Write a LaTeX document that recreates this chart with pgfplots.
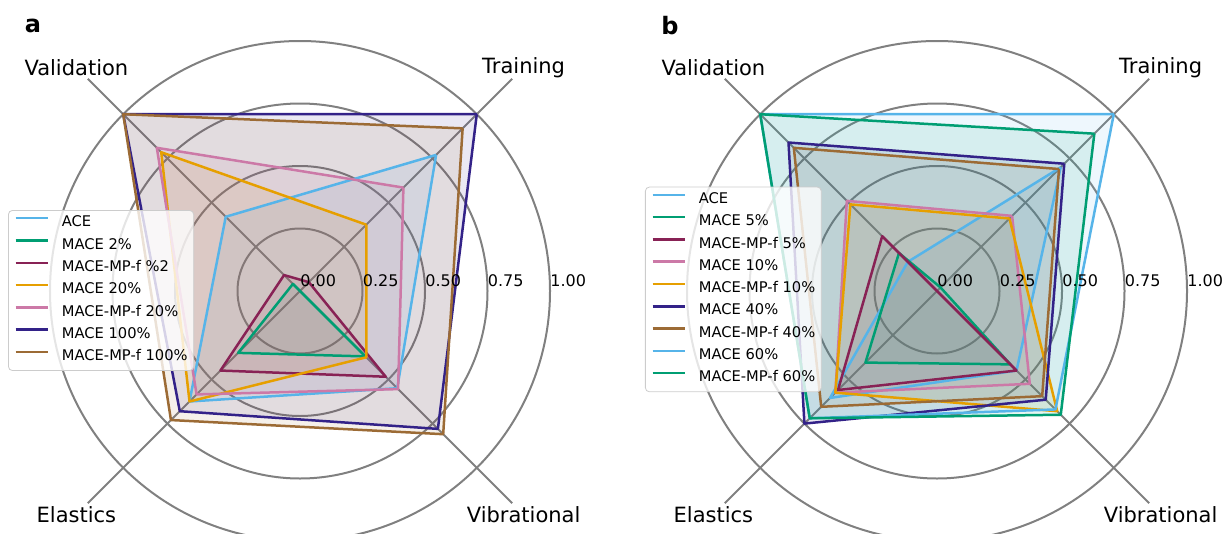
\documentclass[border=0pt]{standalone}
\usepackage{pgfplots}
\usepackage{pgfplotstable}
\pgfplotsset{compat=1.18}
\usepgfplotslibrary{polar}
\usepackage{fontspec}
\setmainfont{DejaVu Sans}

\definecolor{cACE}{HTML}{56B4E9}
\definecolor{cGreen}{HTML}{009E73}
\definecolor{cPurple}{HTML}{882255}
\definecolor{cOrange}{HTML}{E69F00}
\definecolor{cPink}{HTML}{CC79A7}
\definecolor{cNavy}{HTML}{332288}
\definecolor{cBrown}{HTML}{9C6B35}

% panel a: angle, then one column per model (first row repeated to close)
\pgfplotstableread{
ang  ACE   Ma    Fa    Mb    Fb    Mc   Fc
45   0.77  0     0.05  0.375 0.585 1.0  0.92
135  0.42  0.04  0.09  0.785 0.81  1.0  1.0
225  0.625 0.35  0.45  0.625 0.585 0.68 0.73
315  0.55  0.37  0.485 0.375 0.555 0.78 0.81
45   0.77  0     0.05  0.375 0.585 1.0  0.92
}\tabA
% panel b
\pgfplotstableread{
ang  ACE   Ma    Fa    Mb    Fb    Mc    Fc    Md   Fd
45   0.70  0.02  0     0.425 0.41  0.72  0.69  1.0  0.89
135  0.165 0.215 0.31  0.51  0.49  0.84  0.81  1.0  1.0
225  0.605 0.405 0.56  0.575 0.575 0.75  0.655 0.72 0.72
315  0.45  0.415 0.45  0.525 0.68  0.615 0.595 0.67 0.70
45   0.70  0.02  0     0.425 0.41  0.72  0.69  1.0  0.89
}\tabB

\pgfplotsset{
  radar/.style={
    width=300pt, height=300pt, scale only axis,
    ymin=0, ymax=1.2, xmin=0, xmax=360,
    xtick={45,135,225,315}, xticklabels={},
    ytick={0.25,0.5,0.75,1}, yticklabels={},
    xmajorgrids, ymajorgrids,
    major grid style={draw=gray, line width=1pt},
    axis line style={draw=none},
    major tick length=0pt,
    clip=false,
    legend cell align=left,
    legend image code/.code={\draw[##1] (0pt,2.7pt) -- (16pt,2.7pt);},
    legend style={font=\fontsize{7.35}{8.8}\selectfont, draw=black!20, rounded corners=2pt,
      fill=white, fill opacity=0.8, text opacity=1, draw opacity=1,
      inner xsep=3pt, inner ysep=1pt, row sep=0pt, column sep=6.5pt,
      nodes={inner sep=0pt, text height=7.2pt, text depth=3.95pt},
      anchor=north west},
  },
  area/.style={forget plot, draw=none, fill=#1, fill opacity=0.1},
  ln/.style={draw=#1, line width=1.25pt, line join=round},
}
\tikzset{
  rlabel/.style={anchor=base west, inner sep=0pt, yshift=2.5pt, font=\fontsize{8}{9.6}\selectfont},
  clabel/.style={anchor=center, font=\fontsize{10.5}{12.6}\selectfont},
}

\begin{document}
\begin{tikzpicture}
\useasboundingbox (0,0) rectangle (612.5pt,-267pt);

% ---------------- panel a ----------------
\begin{polaraxis}[radar, at={(150pt,-145.5pt)}, anchor=center,
  legend style={at={(axis cs:164.5,1.212)}}]
\addplot[area=cACE]    table[x=ang,y=ACE] {\tabA};
\addplot[area=cGreen]  table[x=ang,y=Ma] {\tabA};
\addplot[area=cPurple] table[x=ang,y=Fa] {\tabA};
\addplot[area=cOrange] table[x=ang,y=Mb] {\tabA};
\addplot[area=cPink]   table[x=ang,y=Fb] {\tabA};
\addplot[area=cNavy]   table[x=ang,y=Mc] {\tabA};
\addplot[area=cBrown]  table[x=ang,y=Fc] {\tabA};
\addplot[ln=cACE]    table[x=ang,y=ACE] {\tabA};
\addplot[ln=cGreen]  table[x=ang,y=Ma] {\tabA};
\addplot[ln=cPurple] table[x=ang,y=Fa] {\tabA};
\addplot[ln=cOrange] table[x=ang,y=Mb] {\tabA};
\addplot[ln=cPink]   table[x=ang,y=Fb] {\tabA};
\addplot[ln=cNavy]   table[x=ang,y=Mc] {\tabA};
\addplot[ln=cBrown]  table[x=ang,y=Fc] {\tabA};
\legend{ACE, MACE 2\%, MACE-MP-f \%2, MACE 20\%, MACE-MP-f 20\%, MACE 100\%, MACE-MP-f 100\%}
\node[rlabel] at (axis cs:0,0) {0.00};
\node[rlabel] at (axis cs:0,0.25) {0.25};
\node[rlabel] at (axis cs:0,0.5) {0.50};
\node[rlabel] at (axis cs:0,0.75) {0.75};
\node[rlabel] at (axis cs:0,1) {1.00};
\node[clabel] at (axis cs:45,1.265) {Training};
\node[clabel] at (axis cs:135,1.265) {Validation};
\node[clabel] at (axis cs:225,1.265) {Elastics};
\node[clabel] at (axis cs:315,1.265) {Vibrational};
\end{polaraxis}

% ---------------- panel b ----------------
\begin{polaraxis}[radar, at={(468.5pt,-145.5pt)}, anchor=center,
  legend style={at={(axis cs:160.34,1.2404)}}]
\addplot[area=cACE]    table[x=ang,y=ACE] {\tabB};
\addplot[area=cGreen]  table[x=ang,y=Ma] {\tabB};
\addplot[area=cPurple] table[x=ang,y=Fa] {\tabB};
\addplot[area=cPink]   table[x=ang,y=Mb] {\tabB};
\addplot[area=cOrange] table[x=ang,y=Fb] {\tabB};
\addplot[area=cNavy]   table[x=ang,y=Mc] {\tabB};
\addplot[area=cBrown]  table[x=ang,y=Fc] {\tabB};
\addplot[area=cACE]    table[x=ang,y=Md] {\tabB};
\addplot[area=cGreen]  table[x=ang,y=Fd] {\tabB};
\addplot[ln=cACE]    table[x=ang,y=ACE] {\tabB};
\addplot[ln=cGreen]  table[x=ang,y=Ma] {\tabB};
\addplot[ln=cPurple] table[x=ang,y=Fa] {\tabB};
\addplot[ln=cPink]   table[x=ang,y=Mb] {\tabB};
\addplot[ln=cOrange] table[x=ang,y=Fb] {\tabB};
\addplot[ln=cNavy]   table[x=ang,y=Mc] {\tabB};
\addplot[ln=cBrown]  table[x=ang,y=Fc] {\tabB};
\addplot[ln=cACE]    table[x=ang,y=Md] {\tabB};
\addplot[ln=cGreen]  table[x=ang,y=Fd] {\tabB};
\legend{ACE, MACE 5\%, MACE-MP-f 5\%, MACE 10\%, MACE-MP-f 10\%, MACE 40\%, MACE-MP-f 40\%, MACE 60\%, MACE-MP-f 60\%}
\node[rlabel] at (axis cs:0,0) {0.00};
\node[rlabel] at (axis cs:0,0.25) {0.25};
\node[rlabel] at (axis cs:0,0.5) {0.50};
\node[rlabel] at (axis cs:0,0.75) {0.75};
\node[rlabel] at (axis cs:0,1) {1.00};
\node[clabel] at (axis cs:45,1.265) {Training};
\node[clabel] at (axis cs:135,1.265) {Validation};
\node[clabel] at (axis cs:225,1.265) {Elastics};
\node[clabel] at (axis cs:315,1.265) {Vibrational};
\end{polaraxis}

\node[font=\bfseries\fontsize{12}{14}\selectfont] at (16.5pt,-13pt) {a};
\node[font=\bfseries\fontsize{12}{14}\selectfont] at (335pt,-13pt) {b};
\end{tikzpicture}
\end{document}
